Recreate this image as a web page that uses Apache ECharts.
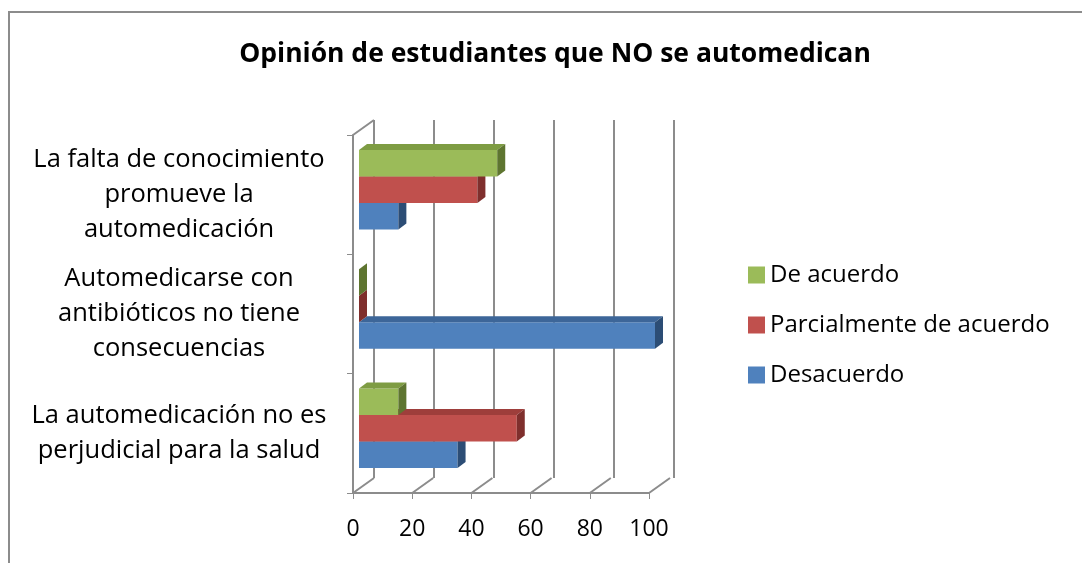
<!DOCTYPE html>
<html>
<head>
<meta charset="utf-8">
<script src="https://cdn.jsdelivr.net/npm/echarts@6/dist/echarts.min.js"></script>
<style>
  html, body {margin: 0; padding: 0; background: #fff;}
  #main {width: 1082px; height: 563px;}
</style>
</head>
<body>
<div id="main"></div>
<script>
// datos (de abajo hacia arriba)
const categories = [
  'La automedicación no es\nperjudicial para la salud',
  'Automedicarse con\nantibióticos no tiene\nconsecuencias',
  'La falta de conocimiento\npromueve la\nautomedicación'
]
const desacuerdo = [33.3, 100, 13.3]
const parcialmente = [53.3, 0, 40]
const deAcuerdo = [13.3, 0, 46.7]
const xTicks = [0, 20, 40, 60, 80, 100]

const FONT = 'Open Sans'
const GRAY = '#8c8c8c'
const DX = 21, DY = 15 // profundidad de la pared del fondo

// dibuja una barra 3D: cara frontal, cara superior y lateral
const bar3d = (pos, front, top, side) => (params, api) => {
  const cat = api.value(1)
  const base = api.coord([0, cat])
  const end = api.coord([api.value(0), cat])
  const band = api.size([0, 1])[1]
  const h = band * 0.222
  const cy = base[1] - 5 + (1 - pos) * h
  const x0 = base[0] + 6, x1 = end[0] + 6
  const y0 = cy - h / 2, y1 = cy + h / 2
  const d = 8, e = 6
  return {
    type: 'group',
    children: [
      {type: 'polygon', shape: {points: [[x0, y0], [x1, y0], [x1, y1], [x0, y1]]}, style: {fill: front}},
      {type: 'polygon', shape: {points: [[x0, y0], [x1, y0], [x1 + d, y0 - e], [x0 + d, y0 - e]]}, style: {fill: top}},
      {type: 'polygon', shape: {points: [[x1, y0], [x1 + d, y0 - e], [x1 + d, y1 - e], [x1, y1]]}, style: {fill: side}}
    ]
  }
}

const toData = arr => arr.map((v, i) => [v, i])

let chart = echarts.init(document.getElementById('main'))
let option = {
  animation: false,
  title: {
    text: 'Opinión de estudiantes que NO se automedican',
    left: 550,
    textAlign: 'center',
    top: 36,
    textStyle: {fontFamily: FONT, fontSize: 26.5, fontWeight: 'bold', color: '#000'}
  },
  legend: {
    orient: 'vertical',
    left: 743,
    top: 258,
    icon: 'rect',
    itemWidth: 17,
    itemHeight: 17,
    itemGap: 26,
    data: ['De acuerdo', 'Parcialmente de acuerdo', 'Desacuerdo'],
    textStyle: {fontFamily: FONT, fontSize: 24, lineHeight: 23, color: '#000'}
  },
  graphic: [
    {type: 'rect', shape: {x: 9, y: 12, width: 1200, height: 700}, style: {fill: 'none', stroke: GRAY, lineWidth: 2}, silent: true}
  ],
  grid: [
    {left: 353, top: 135, width: 296, height: 358},
    {left: 353 + DX, top: 135 - DY, width: 300, height: 358}
  ],
  xAxis: [
    {
      type: 'value', gridIndex: 0, min: 0, max: 100, interval: 20,
      axisLine: {show: true, lineStyle: {color: GRAY, width: 2}},
      axisTick: {show: true, length: 6, lineStyle: {color: GRAY, width: 1}},
      splitLine: {show: false},
      axisLabel: {margin: 25, fontFamily: FONT, fontSize: 23, color: '#000'}
    },
    {
      type: 'value', gridIndex: 1, min: 0, max: 100, interval: 20,
      axisLine: {show: false}, axisTick: {show: false}, axisLabel: {show: false},
      splitLine: {show: true, lineStyle: {color: GRAY, width: 2}}
    }
  ],
  yAxis: [
    {
      type: 'category', gridIndex: 0, data: categories,
      axisLine: {show: true, lineStyle: {color: GRAY, width: 2}},
      axisTick: {show: true, length: 6, lineStyle: {color: GRAY, width: 1}},
      axisLabel: {margin: 174, align: 'center', lineHeight: 35, fontFamily: FONT, fontSize: 25.5, color: '#000'}
    },
    {type: 'category', gridIndex: 1, data: categories, show: false}
  ],
  series: [
    {
      name: 'Desacuerdo', type: 'custom', xAxisIndex: 0, yAxisIndex: 0, z: 3, color: '#4F81BD',
      renderItem: bar3d(0, '#4F81BD', '#3D6699', '#2C4D75'), data: toData(desacuerdo)
    },
    {
      name: 'Parcialmente de acuerdo', type: 'custom', xAxisIndex: 0, yAxisIndex: 0, z: 4, color: '#C0504D',
      renderItem: bar3d(1, '#C0504D', '#9E3E3B', '#7F2F2D'), data: toData(parcialmente)
    },
    {
      name: 'De acuerdo', type: 'custom', xAxisIndex: 0, yAxisIndex: 0, z: 5, color: '#9BBB59',
      renderItem: bar3d(2, '#9BBB59', '#7E9C43', '#5E7530'), data: toData(deAcuerdo)
    },
    {
      // diagonales del suelo y de la pared izquierda
      type: 'custom', xAxisIndex: 0, yAxisIndex: 0, z: 1, silent: true,
      data: xTicks.map(v => [v, 0]),
      renderItem: (params, api) => {
        const cs = params.coordSys
        const x = api.coord([api.value(0), 0])[0]
        const yb = cs.y + cs.height
        const children = [
          {type: 'line', shape: {x1: x, y1: yb, x2: x + DX, y2: yb - DY}, style: {stroke: GRAY, lineWidth: 2}}
        ]
        if (params.dataIndex === 0) {
          children.push({type: 'line', shape: {x1: cs.x, y1: cs.y, x2: cs.x + DX, y2: cs.y - DY}, style: {stroke: GRAY, lineWidth: 2}})
        }
        return {type: 'group', children: children}
      }
    }
  ]
}
chart.setOption(option)
</script>
</body>
</html>
